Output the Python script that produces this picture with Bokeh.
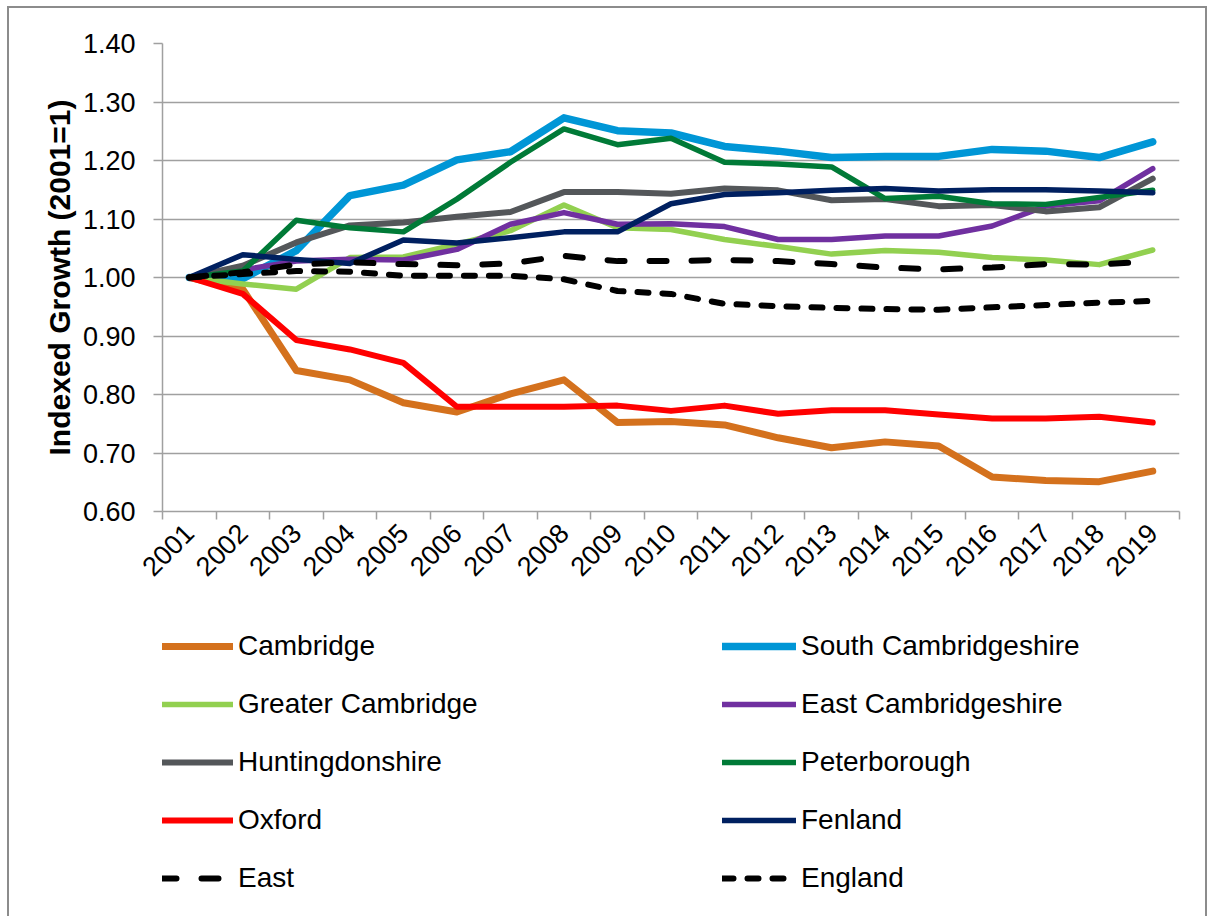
import math
from bokeh.plotting import figure
from bokeh.layouts import column
from bokeh.models import (Range1d, FixedTicker, PrintfTickFormatter, Legend, LegendItem)
from bokeh.embed import file_html
from bokeh.resources import INLINE

years = [str(y) for y in range(2001, 2020)]

cambridge = [1.000, 0.980, 0.841, 0.825, 0.786, 0.770, 0.801, 0.825, 0.752, 0.754,
             0.748, 0.726, 0.709, 0.719, 0.712, 0.659, 0.653, 0.651, 0.669]
south_cambridgeshire = [1.000, 0.998, 1.046, 1.140, 1.158, 1.201, 1.215, 1.273, 1.251, 1.247,
                        1.224, 1.216, 1.205, 1.207, 1.207, 1.219, 1.216, 1.205, 1.232]
greater_cambridge = [1.000, 0.989, 0.980, 1.034, 1.035, 1.057, 1.080, 1.124, 1.085, 1.082,
                     1.065, 1.053, 1.040, 1.046, 1.043, 1.034, 1.030, 1.022, 1.047]
east_cambridgeshire = [1.000, 1.013, 1.028, 1.031, 1.030, 1.048, 1.091, 1.111, 1.091, 1.092,
                       1.087, 1.065, 1.065, 1.071, 1.071, 1.088, 1.122, 1.131, 1.186]
huntingdonshire = [1.000, 1.020, 1.060, 1.089, 1.094, 1.104, 1.112, 1.146, 1.146, 1.143,
                   1.152, 1.149, 1.132, 1.134, 1.122, 1.124, 1.113, 1.120, 1.169]
peterborough = [1.000, 1.011, 1.098, 1.085, 1.078, 1.134, 1.197, 1.254, 1.227, 1.238,
                1.197, 1.194, 1.189, 1.135, 1.139, 1.126, 1.125, 1.137, 1.149]
oxford = [1.000, 0.972, 0.893, 0.877, 0.854, 0.779, 0.779, 0.779, 0.781, 0.772,
          0.781, 0.767, 0.773, 0.773, 0.766, 0.759, 0.759, 0.762, 0.752]
fenland = [1.000, 1.039, 1.031, 1.024, 1.064, 1.059, 1.068, 1.078, 1.078, 1.126,
           1.142, 1.145, 1.149, 1.152, 1.148, 1.150, 1.150, 1.148, 1.145]
east = [1.000, 1.009, 1.022, 1.026, 1.023, 1.021, 1.024, 1.037, 1.028, 1.028,
        1.030, 1.028, 1.023, 1.017, 1.014, 1.017, 1.023, 1.022, 1.028]
england = [1.000, 1.006, 1.011, 1.010, 1.003, 1.003, 1.003, 0.997, 0.977, 0.972,
           0.955, 0.951, 0.948, 0.946, 0.945, 0.949, 0.953, 0.957, 0.960]

y_ticks = [0.6, 0.7, 0.8, 0.9, 1.0, 1.1, 1.2, 1.3, 1.4]
y_title = "Indexed Growth (2001=1)"

series = [
    ("Cambridge", cambridge, "#D4711D", 7, "solid"),
    ("South Cambridgeshire", south_cambridgeshire, "#0096D6", 7.5, "solid"),
    ("Greater Cambridge", greater_cambridge, "#92D050", 5.5, "solid"),
    ("East Cambridgeshire", east_cambridgeshire, "#7030A0", 5.5, "solid"),
    ("Huntingdonshire", huntingdonshire, "#54575A", 6, "solid"),
    ("Peterborough", peterborough, "#007A37", 5.5, "solid"),
    ("Oxford", oxford, "#FF0000", 6, "solid"),
    ("Fenland", fenland, "#002060", 5.5, "solid"),
    ("East", east, "#000000", 6, "17 25"),
    ("England", england, "#000000", 6, "11 14"),
]

FONT = "Liberation Sans"
GRID = "#a0a0a0"
BORDER = "2px solid #8c8c8c"

# ---- main chart ----
p = figure(width=1196, height=590, output_backend="svg", toolbar_location=None,
           x_range=Range1d(-0.5, len(years) - 0.5), y_range=Range1d(0.6, 1.4),
           min_border_left=153, min_border_right=26, min_border_top=35,
           min_border_bottom=87)
p.outline_line_color = None
p.background_fill_color = "white"
p.border_fill_color = "white"

xs = list(range(len(years)))
for name, vals, color, lw, dash in series:
    p.line(xs, vals, line_color=color, line_width=lw, line_dash=dash,
           line_cap="round", line_join="round")

# x axis: ticks at category boundaries, labels at category centres
p.xaxis.ticker = FixedTicker(ticks=xs, minor_ticks=[i - 0.5 for i in range(len(years) + 1)])
p.xaxis.major_label_overrides = {i: years[i] for i in xs}
p.xaxis.major_tick_in = 0
p.xaxis.major_tick_out = 0
p.xaxis.minor_tick_in = 0
p.xaxis.minor_tick_out = 8
p.xaxis.minor_tick_line_color = GRID
p.xaxis.minor_tick_line_width = 1.5
p.xaxis.axis_line_color = GRID
p.xaxis.axis_line_width = 1.5
p.xaxis.major_label_orientation = math.pi / 4
p.xaxis.major_label_text_font = FONT
p.xaxis.major_label_text_font_size = "27px"
p.xaxis.major_label_text_color = "black"
p.xaxis.major_label_standoff = 9

# y axis
p.yaxis.ticker = FixedTicker(ticks=y_ticks)
p.yaxis.formatter = PrintfTickFormatter(format="%.2f")
p.yaxis.major_tick_in = 0
p.yaxis.major_tick_out = 9
p.yaxis.minor_tick_line_color = None
p.yaxis.major_tick_line_color = GRID
p.yaxis.major_tick_line_width = 1.5
p.yaxis.axis_line_color = GRID
p.yaxis.axis_line_width = 1.5
p.yaxis.major_label_text_font = FONT
p.yaxis.major_label_text_font_size = "27px"
p.yaxis.major_label_text_color = "black"
p.yaxis.major_label_standoff = 18
p.yaxis.axis_label = y_title
p.yaxis.axis_label_text_font = FONT
p.yaxis.axis_label_text_font_size = "30px"
p.yaxis.axis_label_text_font_style = "bold"
p.yaxis.axis_label_text_color = "black"
p.yaxis.axis_label_standoff = 4

p.xgrid.grid_line_color = None
p.ygrid.grid_line_color = GRID
p.ygrid.grid_line_width = 1.5

# ---- legend panel (frame is aligned with the main chart's frame) ----
q = figure(width=1196, height=318, output_backend="svg", toolbar_location=None,
           x_range=Range1d(0, 1), y_range=Range1d(0, 1),
           min_border_left=0, min_border_right=0, min_border_top=0,
           min_border_bottom=0, x_axis_type=None, y_axis_type=None)
q.outline_line_color = None
q.xgrid.grid_line_color = None
q.ygrid.grid_line_color = None
q.background_fill_color = "white"
q.border_fill_color = "white"

items = []
for name, vals, color, lw, dash in series:
    # placed outside the visible range: only its legend glyph shows
    r = q.line([5, 6], [5, 6], line_color=color, line_width=lw, line_dash=dash,
               line_cap="round", line_join="round")
    items.append(LegendItem(label=name, renderers=[r]))

legend = Legend(items=items, location=(-3, 22), orientation="horizontal", ncols=2,
                label_text_font=FONT, label_text_font_size="28px",
                label_text_color="black", glyph_width=74, glyph_height=20,
                label_height=20, label_standoff=5, label_width=458, spacing=26,
                padding=0, margin=0, border_line_color=None,
                background_fill_alpha=0)
q.add_layout(legend, "center")

layout = column(p, q, spacing=0)
layout.margin = (6, 0, 0, 7)
layout.styles = {"border-top": BORDER, "border-left": BORDER, "border-right": BORDER}

open("out.html", "w").write(file_html(layout, INLINE))
